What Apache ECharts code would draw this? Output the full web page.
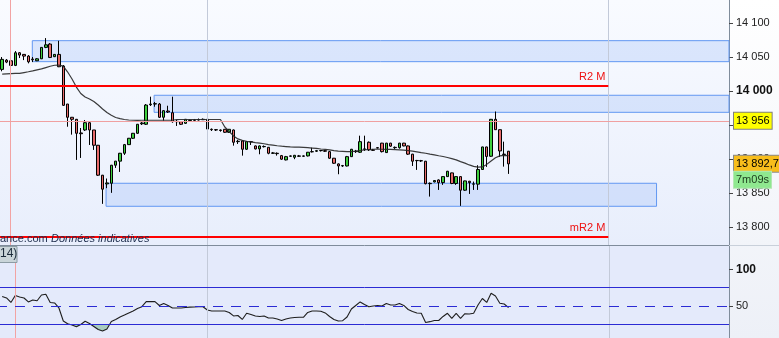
<!DOCTYPE html>
<html><head><meta charset="utf-8">
<script src="https://cdn.jsdelivr.net/npm/echarts@6/dist/echarts.min.js"></script>
<style>html,body{margin:0;padding:0;background:#fff}#c{width:779px;height:338px}</style>
</head><body><div id="c"></div>
<script>
// ---- candle data (price) ----
const open = [14031.8, 14045.5, 14044.5, 14037.7, 14056.3, 14053.9, 14051.4, 14047.0, 14044.5, 14047.4,
 14064.2, 14069.1, 14050.5, 14053.9, 14036.7, 13980.8, 13961.3, 13958.3, 13938.2, 13942.6,
 13953.3, 13942.6, 13920.1, 13876.0, 13863.2, 13864.2, 13890.7, 13896.7, 13908.3, 13921.0,
 13930.4, 13937.7, 13951.7, 13951.0, 13979.8, 13980.8, 13980.8, 13961.3, 13970.5, 13968.0,
 13954.8, 13954.8, 13952.4, 13956.3, 13956.9, 13957.3, 13957.7, 13958.3, 13943.6, 13943.0,
 13942.6, 13943.6, 13939.2, 13942.6, 13925.4, 13926.4, 13914.2, 13925.4, 13919.1, 13914.7,
 13918.0, 13917.1, 13908.3, 13908.3, 13904.8, 13898.5, 13903.9, 13902.4, 13904.4, 13903.9,
 13904.4, 13910.7, 13911.3, 13912.1, 13912.1, 13910.7, 13901.0, 13892.6, 13889.6, 13889.6,
 13903.3, 13910.7, 13909.8, 13914.2, 13924.5, 13913.2, 13916.5, 13923.2, 13909.3, 13923.2,
 13916.5, 13916.5, 13923.2, 13919.1, 13907.0, 13897.4, 13897.4, 13896.6, 13863.5, 13866.1,
 13869.0, 13865.1, 13873.9, 13879.4, 13863.8, 13873.9, 13853.9, 13867.1, 13862.8, 13862.8,
 13884.4, 13917.6, 13903.9, 13958.3, 13943.0, 13907.0, 13911.3];
const close = [14046.6, 14042.6, 14037.7, 14056.3, 14052.9, 14051.4, 14043.0, 14046.0, 14047.4, 14064.2,
 14068.0, 14049.4, 14053.9, 14035.7, 13978.9, 13961.3, 13958.3, 13937.7, 13937.1, 13953.3,
 13942.6, 13920.1, 13876.0, 13855.4, 13864.6, 13890.7, 13896.7, 13908.3, 13921.0, 13930.4,
 13937.7, 13951.0, 13952.9, 13979.3, 13980.8, 13981.3, 13961.3, 13971.0, 13969.1, 13954.8,
 13955.4, 13951.0, 13958.3, 13956.9, 13957.3, 13957.7, 13958.3, 13944.0, 13943.0, 13942.6,
 13941.8, 13939.2, 13943.6, 13924.5, 13926.0, 13914.2, 13925.4, 13925.0, 13914.7, 13919.1,
 13918.3, 13908.3, 13908.8, 13907.7, 13899.6, 13903.3, 13904.4, 13905.3, 13903.9, 13904.4,
 13909.8, 13910.4, 13912.1, 13912.4, 13911.3, 13901.0, 13893.6, 13889.6, 13890.1, 13903.3,
 13914.2, 13911.3, 13925.4, 13914.7, 13913.2, 13912.7, 13916.1, 13910.7, 13923.2, 13918.8,
 13917.0, 13923.2, 13919.1, 13907.0, 13896.6, 13897.7, 13897.0, 13863.5, 13864.0, 13868.1,
 13865.1, 13873.9, 13881.8, 13863.8, 13873.9, 13853.9, 13867.6, 13865.1, 13863.2, 13884.4,
 13917.6, 13903.6, 13958.3, 13943.0, 13911.7, 13906.4, 13892.7];
const low = [14029.0, 14041.0, 14036.7, 14036.7, 14048.5, 14045.5, 14040.7, 14042.6, 14044.0, 14047.0,
 14063.1, 14048.5, 14050.0, 14035.2, 13977.9, 13947.4, 13935.7, 13898.5, 13901.4, 13941.1,
 13920.5, 13913.2, 13874.9, 13833.8, 13856.9, 13850.0, 13886.7, 13880.8, 13905.8, 13920.5,
 13929.3, 13936.7, 13949.9, 13949.9, 13977.9, 13976.8, 13960.2, 13956.3, 13967.6, 13953.3,
 13948.5, 13949.9, 13951.4, 13955.2, 13955.8, 13956.6, 13957.3, 13942.6, 13941.1, 13941.1,
 13940.1, 13938.2, 13938.2, 13919.5, 13922.0, 13904.8, 13913.2, 13920.5, 13913.9, 13906.8,
 13916.8, 13906.8, 13907.2, 13904.8, 13898.5, 13897.8, 13902.9, 13899.6, 13902.9, 13902.9,
 13903.6, 13909.5, 13910.2, 13910.9, 13910.2, 13900.0, 13892.6, 13877.4, 13888.2, 13888.9,
 13902.9, 13908.8, 13908.8, 13911.7, 13911.7, 13911.7, 13915.4, 13909.5, 13908.8, 13917.7,
 13914.7, 13915.1, 13918.5, 13905.8, 13889.6, 13883.8, 13895.5, 13862.5, 13844.5, 13865.4,
 13854.3, 13861.7, 13873.5, 13862.8, 13861.7, 13830.8, 13852.9, 13848.4, 13854.3, 13854.3,
 13883.8, 13888.2, 13902.9, 13942.6, 13902.9, 13888.6, 13877.9];
const high = [14050.0, 14047.0, 14045.5, 14058.8, 14057.3, 14054.4, 14052.9, 14050.0, 14048.5, 14064.6,
 14077.9, 14070.5, 14054.4, 14073.9, 14038.2, 13980.8, 13961.7, 13958.8, 13945.5, 13957.3,
 13954.3, 13942.6, 13920.5, 13876.4, 13871.1, 13891.1, 13897.0, 13908.8, 13922.0, 13930.8,
 13938.2, 13951.4, 13954.8, 13980.8, 13991.6, 13983.8, 13982.3, 13972.0, 13978.3, 13991.6,
 13957.3, 13955.8, 13958.8, 13958.2, 13958.8, 13959.5, 13959.5, 13959.2, 13944.8, 13944.0,
 13943.3, 13944.0, 13944.0, 13943.3, 13927.9, 13926.9, 13926.4, 13926.4, 13919.8, 13919.8,
 13919.8, 13917.5, 13910.2, 13909.5, 13905.8, 13904.4, 13905.1, 13905.8, 13905.8, 13905.1,
 13910.2, 13916.5, 13913.2, 13913.2, 13913.2, 13911.7, 13901.4, 13893.3, 13891.1, 13904.4,
 13914.7, 13913.2, 13934.2, 13934.2, 13925.7, 13914.7, 13917.5, 13923.6, 13923.6, 13923.6,
 13918.3, 13923.6, 13923.6, 13919.8, 13907.4, 13898.5, 13898.5, 13897.0, 13865.4, 13868.4,
 13869.8, 13874.2, 13882.3, 13879.7, 13874.2, 13874.2, 13868.0, 13867.6, 13866.6, 13890.7,
 13917.9, 13917.9, 13958.8, 13969.8, 13943.3, 13925.4, 13911.7];
const movingAvg = [14024.9, 14025.2, 14025.5, 14025.8, 14025.9, 14027.1, 14028.3, 14029.6, 14031.1, 14032.6,
 14034.5, 14036.4, 14037.9, 14038.0, 14036.7, 14027.9, 14017.6, 14005.8, 13996.3, 13991.1,
 13988.2, 13984.5, 13979.3, 13973.5, 13968.3, 13964.2, 13961.0, 13959.2, 13958.0, 13957.3,
 13956.9, 13956.6, 13956.9, 13956.9, 13956.9, 13956.9, 13956.9, 13956.9, 13956.9, 13956.9,
 13958.0, 13958.0, 13958.0, 13958.0, 13958.0, 13958.0, 13958.0, 13958.0, 13958.0, 13958.0,
 13958.0, 13947.0, 13940.4, 13933.8, 13929.4, 13927.2, 13925.7, 13925.0, 13924.0, 13923.2,
 13922.3, 13921.1, 13920.3, 13919.4, 13918.7, 13918.2, 13917.6, 13917.3, 13917.2, 13916.9,
 13916.5, 13916.0, 13915.4, 13914.6, 13914.1, 13913.3, 13912.2, 13911.5, 13911.1, 13910.6,
 13910.8, 13911.5, 13912.4, 13913.2, 13913.8, 13914.2, 13914.4, 13914.2, 13914.1, 13913.9,
 13913.6, 13913.3, 13912.9, 13912.3, 13911.4, 13910.4, 13909.3, 13908.3, 13907.0, 13905.8,
 13904.6, 13903.5, 13902.0, 13900.4, 13898.5, 13896.0, 13893.8, 13891.1, 13888.9, 13887.8,
 13888.2, 13891.9, 13897.0, 13901.7, 13904.4, 13905.3, 13904.8];
const rsi = [63, 60.9, 54.8, 64.3, 62.3, 60.9, 55.5, 58.2, 57.1, 65,
 66, 54.8, 54.1, 47.3, 29.5, 25.7, 24.1, 21.8, 24.8, 29.1,
 26.1, 22, 17.9, 15.9, 18.6, 28.9, 31.6, 35, 37.7, 40.5,
 43.2, 46.6, 49, 55.9, 55.9, 55.9, 50.7, 53.4, 50.7, 47.3,
 47.3, 47.3, 48, 48.4, 48.6, 49, 49, 44.5, 43.2, 43.2,
 43.2, 43.2, 41.1, 36.4, 37, 31.6, 40.1, 38.4, 36.4, 35.7,
 36.4, 33.6, 33.6, 32.3, 30.2, 32.3, 33.6, 34.3, 34.6, 34.6,
 41.1, 43.2, 43.2, 42.8, 40.5, 35.7, 31.6, 29.5, 29.9, 35,
 45.9, 50.7, 55.5, 52, 49, 50, 50.7, 50, 53.4, 51.4,
 51.4, 53.4, 50.7, 45.2, 42.5, 40.5, 40, 27.5, 28.6, 30.2,
 30.2, 35.7, 40, 33.2, 39.8, 33.2, 39.4, 39.1, 40, 51.4,
 60.2, 54.8, 67.3, 63.6, 53.7, 52.7, 47.7];

// ---- axes / ticks ----
const SLOTS = 167;
const slots = Array.from({length: SLOTS}, (_, i) => String(i));
const priceTicks = [13800, 13850, 13900, 13950, 14000, 14050, 14100];
const rsiTicks = [50, 100];
const priceRange = [13773.2, 14134.0];
const rsiRange = [6.3, 133.2];

// ---- annotation zones (slot from, slot to, low, high) ----
const zoneFrom = [6.9, 34.8, 23.8];
const zoneTo = [166.5, 166.5, 149.9];
const zoneLow = [14043.2, 13968.6, 13830.2];
const zoneHigh = [14074.1, 13993.7, 13864.1];
const pivotNames = ['R2 M', 'mR2 M'];
const pivotLevels = [14007.8, 13785.4];
const pivotEnd = 138.85;
const refLevel = 13956;
const lastPrice = 13892.7;
const timerText = '7m09s';
const rsiBands = [75, 25];
const rsiMid = 50;

const fmt = v => String(v).replace('.', ',').replace(/\B(?=(\d{3})+(?!\d))/g, ' ');
const FONT = '"Liberation Sans", Arial, sans-serif';

const chart = echarts.init(document.getElementById('c'), null, {renderer: 'canvas'});
const G = echarts.graphic;

const option = {
  animation: false,
  backgroundColor: new G.LinearGradient(0, 0, 0, 1, [{offset: 0, color: '#ffffff'}, {offset: 1, color: '#edf0f7'}]),
  textStyle: {fontFamily: FONT},
  grid: [
    {left: 0, top: 0, width: 729, height: 245, show: true, borderWidth: 0,
     backgroundColor: new G.LinearGradient(0, 0, 0, 1, [{offset: 0, color: '#f9fbff'}, {offset: 1, color: '#e8eefc'}])},
    {left: 0, top: 245, width: 729, height: 93, show: true, borderWidth: 0, backgroundColor: '#e4eafb'}
  ],
  xAxis: [
    {type: 'category', gridIndex: 0, data: slots, show: false},
    {type: 'category', gridIndex: 1, data: slots, show: false},
    {type: 'value', gridIndex: 0, min: -0.5, max: SLOTS - 0.5, show: false},
    {type: 'value', gridIndex: 1, min: -0.5, max: SLOTS - 0.5, show: false}
  ],
  yAxis: [
    {type: 'value', gridIndex: 0, position: 'right', min: priceRange[0], max: priceRange[1],
     splitLine: {show: false},
     axisLine: {show: true, onZero: false, lineStyle: {color: '#7f8c9b', width: 1}},
     axisTick: {show: true, length: 4, customValues: priceTicks, lineStyle: {color: '#444'}},
     axisLabel: {customValues: priceTicks, margin: 7, color: '#222', fontSize: 11, fontFamily: FONT,
       formatter: v => v === 14000 ? '{b|' + fmt(v) + '}' : fmt(v),
       rich: {b: {fontWeight: 'bold', fontSize: 12, color: '#111', fontFamily: FONT}}}},
    {type: 'value', gridIndex: 1, position: 'right', min: rsiRange[0], max: rsiRange[1],
     splitLine: {show: false},
     axisLine: {show: true, onZero: false, lineStyle: {color: '#7f8c9b', width: 1}},
     axisTick: {show: true, length: 4, customValues: rsiTicks, lineStyle: {color: '#444'}},
     axisLabel: {customValues: rsiTicks, margin: 7, color: '#222', fontSize: 11, fontFamily: FONT,
       formatter: v => v === 100 ? '{b|100}' : String(v),
       rich: {b: {fontWeight: 'bold', fontSize: 12, color: '#111', fontFamily: FONT}}}}
  ],
  visualMap: [{
    show: false, type: 'piecewise', seriesIndex: 4, dimension: 1,
    pieces: [{lt: 25, color: '#a9ccbf'}, {gte: 25, lt: 150, color: 'rgba(0,0,0,0)'}],
    outOfRange: {color: 'rgba(0,0,0,0)'}
  }],
  series: [
    { // annotations main panel
      type: 'line', xAxisIndex: 2, yAxisIndex: 0, data: [], z: 1, silent: true,
      markArea: {silent: true,
        itemStyle: {color: 'rgba(160,190,250,0.32)', borderColor: '#6398f2', borderWidth: 1},
        data: zoneFrom.map((f, i) => [{coord: [f, zoneHigh[i]]}, {coord: [zoneTo[i], zoneLow[i]]}])},
      markLine: {silent: true, symbol: ['none', 'none'], label: {show: false},
        data: [
          {xAxis: 1.95, lineStyle: {color: '#f2a3a3', width: 1, type: 'solid'}},
          {xAxis: 47.0, lineStyle: {color: '#c3cad9', width: 1, type: 'solid'}},
          {xAxis: 138.85, lineStyle: {color: '#c3cad9', width: 1, type: 'solid'}},
          {yAxis: refLevel, lineStyle: {color: '#f0a0a0', width: 1, type: 'solid'},
           label: {show: true, position: 'end', distance: 5, formatter: () => fmt(refLevel),
             color: '#000', fontSize: 11, fontFamily: FONT, backgroundColor: '#ffff00',
             borderColor: '#7f7f7f', borderWidth: 1, padding: [2, 2, 2, 2], lineHeight: 12}},
          {yAxis: lastPrice, lineStyle: {color: 'rgba(0,0,0,0)', width: 1},
           label: {show: true, position: 'end', distance: 5,
             formatter: () => '{s| }\n{a|' + fmt(lastPrice) + '}\n{b|' + timerText + '}',
             rich: {
               s: {height: 16, fontSize: 10, color: 'rgba(0,0,0,0)'},
               a: {height: 14, fontSize: 11, color: '#000', fontFamily: FONT, backgroundColor: '#f7bd1c',
                   borderColor: '#8a8a8a', borderWidth: 1, padding: [1, 2, 1, 2]},
               b: {height: 14, fontSize: 11, color: '#1b3a1b', fontFamily: FONT, backgroundColor: '#8fe88f',
                   borderColor: '#b4e8b4', borderWidth: 1, padding: [1, 2, 1, 2]}
             }}},
          ...pivotLevels.map((lv, i) => [
            {coord: [-0.5, lv], lineStyle: {color: '#ff0000', width: 2, type: 'solid'},
             label: {show: true, position: 'insideEndTop', distance: 3, formatter: pivotNames[i],
               color: '#ee1111', fontSize: 11, fontFamily: FONT}},
            {coord: [pivotEnd, lv]}
          ])
        ]}
    },
    { // candles
      type: 'candlestick', xAxisIndex: 0, yAxisIndex: 0, z: 3, barWidth: 3,
      data: open.map((o, i) => [o, close[i], low[i], high[i]]),
      itemStyle: {color: '#3fcf3f', color0: '#e86b6b', borderColor: '#000', borderColor0: '#000', borderWidth: 1}
    },
    { // moving average
      type: 'line', xAxisIndex: 0, yAxisIndex: 0, z: 4, data: movingAvg, showSymbol: false, symbol: 'none',
      lineStyle: {color: '#262626', width: 1.2, opacity: 0.9}
    },
    { // RSI line
      type: 'line', xAxisIndex: 1, yAxisIndex: 1, z: 4, data: rsi, showSymbol: false, symbol: 'none',
      lineStyle: {color: '#1e1e1e', width: 1.1},
      markLine: {silent: true, symbol: ['none', 'none'], label: {show: false},
        data: [
          {xAxis: 3, lineStyle: {color: '#f2a3a3', width: 1, type: 'solid'}},
          {xAxis: 47, lineStyle: {color: '#c3cad9', width: 1, type: 'solid'}},
          {xAxis: 139, lineStyle: {color: '#c3cad9', width: 1, type: 'solid'}},
          ...rsiBands.map(b => ({yAxis: b, lineStyle: {color: '#2b2bd4', width: 1, type: 'solid'}})),
          {yAxis: rsiMid, lineStyle: {color: '#2b2bd4', width: 1, type: [10, 8], dashOffset: 3}}
        ]}
    },
    { // RSI oversold fill
      type: 'line', xAxisIndex: 1, yAxisIndex: 1, z: 3, data: rsi, showSymbol: false, symbol: 'none',
      lineStyle: {width: 0, opacity: 0},
      areaStyle: {origin: 25, opacity: 1}
    }
  ],
  graphic: [
    {type: 'line', shape: {x1: 0, y1: 245.5, x2: 729, y2: 245.5}, style: {stroke: '#7f8c9b', lineWidth: 1}, z: 10},
    {type: 'line', shape: {x1: 729, y1: 245.5, x2: 779, y2: 245.5}, style: {stroke: '#c9d0da', lineWidth: 1}, z: 10},
    {type: 'text', left: 0, top: 233, z: 10,
     style: {text: '{a|ance.com} {b|Données indicatives}', rich: {
       a: {fontSize: 11, fill: '#1d2c4c', fontFamily: FONT},
       b: {fontSize: 11, fill: '#1d2c4c', fontStyle: 'italic', fontFamily: FONT}}}},
    {type: 'rect', shape: {x: -1, y: 246.5, width: 18, height: 16}, style: {fill: '#c9d5d9', stroke: '#8c9ca4', lineWidth: 1}, z: 10},
    {type: 'text', left: 0, top: 248, z: 11, style: {text: '14)', fontSize: 12, fill: '#1a2a3a', fontFamily: FONT}}
  ]
};
chart.setOption(option);
</script>
</body></html>
